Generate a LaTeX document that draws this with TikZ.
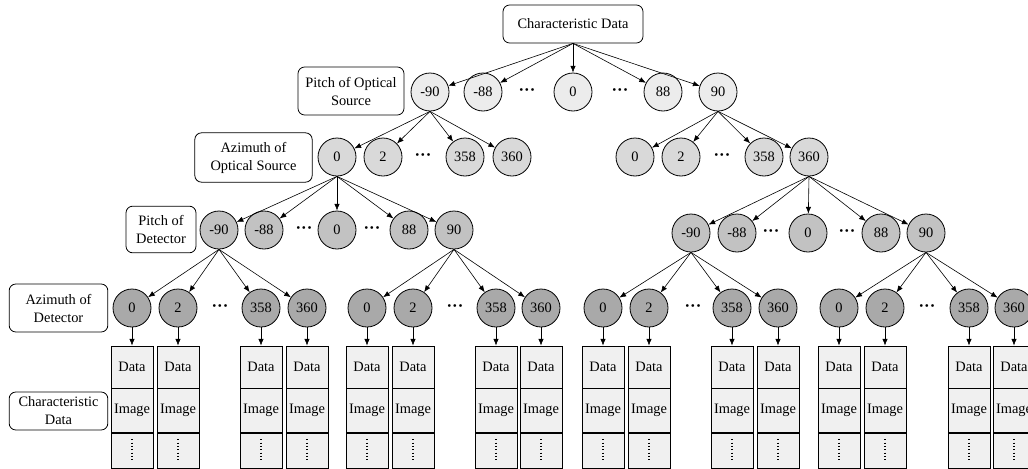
\documentclass[tikz,border=0pt]{standalone}
\usepackage{fontspec}
\setmainfont{Liberation Serif}
\usetikzlibrary{arrows.meta}

\definecolor{srcpfill}{HTML}{ECECEC}
\definecolor{srcafill}{HTML}{D9D9D9}
\definecolor{detpfill}{HTML}{C2C2C2}
\definecolor{detafill}{HTML}{A9A9A9}
\definecolor{cellfill}{HTML}{F0F0F0}

\begin{document}
\begin{tikzpicture}[x=0.75pt, y=-0.75pt,
    font=\fontsize{10.8}{13.5}\selectfont,
    lbl/.style={draw, line width=0.6pt, rounded corners=5pt, fill=white, align=center, inner sep=0pt},
    srcp/.style={circle, draw, line width=0.6pt, fill=srcpfill, minimum size=28.5pt, inner sep=0pt},
    srca/.style={srcp, fill=srcafill},
    detp/.style={srcp, fill=detpfill},
    deta/.style={srcp, fill=detafill},
    skipdots/.style={inner sep=0pt, font=\fontsize{12.5}{13.5}\selectfont\bfseries},
    cell/.style={draw, line width=0.6pt, fill=cellfill, minimum width=31.5pt, inner sep=0pt},
    arr/.style={-{Latex[length=5pt,width=4pt]}, line width=0.45pt}]

        \useasboundingbox (0,0) rectangle (1028,468);

        % labels of the levels
        \node[lbl, minimum width=105pt, minimum height=28.5pt] (top) at (573,24) {Characteristic Data};
        \node[lbl, minimum width=79.5pt, minimum height=36pt] (lsp) at (351,91) {Pitch of Optical\\Source};
        \node[lbl, minimum width=88pt, minimum height=37pt] (lsa) at (253.5,157.5) {Azimuth of\\Optical Source};
        \node[lbl, minimum width=52.5pt, minimum height=35pt] (ldp) at (161,229.5) {Pitch of\\Detector};
        \node[lbl, minimum width=74pt, minimum height=36pt] (lda) at (58.5,308) {Azimuth of\\Detector};
        \node[lbl, minimum width=74pt, minimum height=28.5pt] (lcd) at (58.5,411) {Characteristic\\Data};

        % pitch of optical source
        \node[srcp] (sp-90) at (430,92) {-90};
        \node[srcp] (sp-88) at (483,92) {-88};
        \node[skipdots] (spk1) at (527,92) {···};
        \node[srcp] (sp0) at (573,92) {0};
        \node[skipdots] (spk2) at (620,92) {···};
        \node[srcp] (sp88) at (663,92) {88};
        \node[srcp] (sp90) at (718,92) {90};

        % azimuth of optical source
        \node[srca] (saL0) at (337,157) {0};
        \node[srca] (saL2) at (383,157) {2};
        \node[skipdots] (saLk) at (423,157) {···};
        \node[srca] (saL358) at (465,157) {358};
        \node[srca] (saL360) at (512,157) {360};
        \node[srca] (saR0) at (635,157) {0};
        \node[srca] (saR2) at (681,157) {2};
        \node[skipdots] (saRk) at (722,157) {···};
        \node[srca] (saR358) at (764,157) {358};
        \node[srca] (saR360) at (809,157) {360};

        % pitch of detector
        \node[detp] (dpL-90) at (219,230) {-90};
        \node[detp] (dpL-88) at (264,230) {-88};
        \node[skipdots] (dpLk1) at (304,230) {···};
        \node[detp] (dpL0) at (337,230) {0};
        \node[skipdots] (dpLk2) at (372,230) {···};
        \node[detp] (dpL88) at (409,230) {88};
        \node[detp] (dpL90) at (454,230) {90};
        \node[detp] (dpR-90) at (691,233) {-90};
        \node[detp] (dpR-88) at (737,233) {-88};
        \node[skipdots] (dpRk1) at (771,233) {···};
        \node[detp] (dpR0) at (808,233) {0};
        \node[skipdots] (dpRk2) at (847,233) {···};
        \node[detp] (dpR88) at (881,233) {88};
        \node[detp] (dpR90) at (926,233) {90};

        % azimuth of detector
        \node[deta] (daA0) at (132,308) {0};
        \node[deta] (daA2) at (178,308) {2};
        \node[skipdots] (daAk) at (220,308) {···};
        \node[deta] (daA358) at (261,308) {358};
        \node[deta] (daA360) at (307,308) {360};
        \node[deta] (daB0) at (367,308) {0};
        \node[deta] (daB2) at (413,308) {2};
        \node[skipdots] (daBk) at (455,308) {···};
        \node[deta] (daB358) at (496,308) {358};
        \node[deta] (daB360) at (541,308) {360};
        \node[deta] (daC0) at (603,308) {0};
        \node[deta] (daC2) at (649,308) {2};
        \node[skipdots] (daCk) at (693,308) {···};
        \node[deta] (daC358) at (732,308) {358};
        \node[deta] (daC360) at (778,308) {360};
        \node[deta] (daD0) at (839,308) {0};
        \node[deta] (daD2) at (885,308) {2};
        \node[skipdots] (daDk) at (927,308) {···};
        \node[deta] (daD358) at (969,308) {358};
        \node[deta] (daD360) at (1014,308) {360};

        % tree arrows
        \foreach \c in {sp-90,sp-88,sp0,sp88,sp90}
            \draw[arr] (top.south) -- (\c);
        \foreach \c in {saL0,saL2,saL358,saL360}
            \draw[arr] (sp-90.south) -- (\c);
        \foreach \c in {saR0,saR2,saR358,saR360}
            \draw[arr] (sp90.south) -- (\c);
        \foreach \c in {dpL-90,dpL-88,dpL0,dpL88,dpL90}
            \draw[arr] (saL0.south) -- (\c);
        \foreach \c in {dpR-90,dpR-88,dpR0,dpR88,dpR90}
            \draw[arr] (saR360.south) -- (\c);
        \foreach \p/\g in {dpL-90/A,dpL90/B,dpR-90/C,dpR90/D}
            \foreach \c in {0,2,358,360}
                \draw[arr] (\p.south) -- (da\g\c);

        % characteristic data columns
        \foreach \g in {A,B,C,D}
            \foreach \c in {0,2,358,360} {
                \path (da\g\c) ++(0,59) node[cell, minimum height=31.5pt] (cd\g\c) {Data};
                \node[cell, minimum height=33pt, anchor=north] (ci\g\c) at (cd\g\c.south) {Image};
                \node[cell, minimum height=26.25pt, anchor=north] (cv\g\c) at (ci\g\c.south) {};
                \draw[line width=0.8pt, dash pattern=on 0.6pt off 1.9pt] ([yshift=-4.5pt]cv\g\c.north) -- ([yshift=6pt]cv\g\c.south);
                \draw[arr] (da\g\c) -- (cd\g\c);
            }

    \end{tikzpicture}
\end{document}
